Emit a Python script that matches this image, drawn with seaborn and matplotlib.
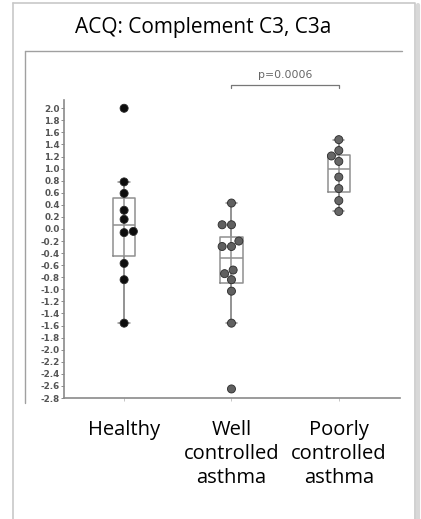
import numpy as np
import pandas as pd
import seaborn as sns
import matplotlib.pyplot as plt
from matplotlib.lines import Line2D

groups = ["Healthy", "Well controlled asthma", "Poorly controlled asthma"]
healthy = [2.0, 0.78, 0.59, 0.31, 0.16, -0.04, -0.06, -0.57, -0.84, -1.56]
well = [0.43, 0.07, 0.07, -0.2, -0.29, -0.29, -0.68, -0.74, -0.84, -1.03, -1.56, -2.65]
poorly = [1.48, 1.30, 1.21, 1.12, 0.86, 0.67, 0.47, 0.29]
labels = ["Healthy", "Well\ncontrolled\nasthma", "Poorly\ncontrolled\nasthma"]
title = "ACQ: Complement C3, C3a"
p_text = "p=0.0006"

df = pd.DataFrame({
    "group": [groups[0]] * len(healthy) + [groups[1]] * len(well) + [groups[2]] * len(poorly),
    "value": healthy + well + poorly,
})

sns.set_style("white")
plt.rcParams["font.family"] = ["Open Sans", "DejaVu Sans"]
plt.rcParams["axes.unicode_minus"] = False

W, H = 421, 519
fig = plt.figure(figsize=(W / 100, H / 100), dpi=100)
ax = fig.add_axes([64 / W, (H - 398) / H, (400 - 64) / W, (398 - 63) / H])

box_col = "#909090"
sns.boxplot(data=df, x="group", y="value", order=groups, width=0.21,
            showfliers=False, fill=False, color=box_col, linewidth=1.1,
            whis=1.5, ax=ax)

# whisker line runs straight through the box
for i, vals in enumerate([healthy, well, poorly]):
    v = np.array(vals)
    q1, q3 = np.percentile(v, [25, 75])
    iqr = q3 - q1
    lo = v[v >= q1 - 1.5 * iqr].min()
    hi = v[v <= q3 + 1.5 * iqr].max()
    ax.vlines(i, lo, hi, color=box_col, lw=1.1, zorder=1)

pal = {groups[0]: "#0d0d0d", groups[1]: "#606060", groups[2]: "#666666"}
sns.swarmplot(data=df, x="group", y="value", order=groups, hue="group",
              palette=pal, size=5.8, edgecolor="#2a2a2a", linewidth=0.6,
              legend=False, ax=ax, zorder=3)

ax.set_xlim(-0.56, 2.57)
ax.set_ylim(-2.8, 2.75)
ticks = np.round(np.arange(-2.8, 2.01, 0.2), 1)
ax.set_yticks(ticks)
ax.set_yticklabels([f"{t:.1f}" for t in ticks], fontsize=6.3,
                   fontweight="bold", color="#555555", family="DejaVu Sans")
ax.set_xticks([0, 1, 2])
ax.set_xticklabels([])
ax.tick_params(axis="y", left=True, length=2, width=0.6, pad=1, color="#777777")
ax.tick_params(axis="x", bottom=True, length=2, width=0.6, color="#bbbbbb")
ax.set_xlabel("")
ax.set_ylabel("")
for s in ["top", "right"]:
    ax.spines[s].set_visible(False)
for s in ["left", "bottom"]:
    ax.spines[s].set_color("#8a8a8a")
    ax.spines[s].set_linewidth(1.2)
ax.spines["left"].set_bounds(-2.8, 2.13)

# significance bracket
ax.plot([1, 1, 2, 2], [2.33, 2.38, 2.38, 2.33], color="#777777", lw=0.9, clip_on=False)
ax.text(1.5, 2.55, p_text, ha="center", va="center", fontsize=7.8,
        color="#666666", family="DejaVu Sans")

# group labels
for i, lab in enumerate(labels):
    ax.text(i, -3.17, lab, ha="center", va="top", fontsize=14.5,
            color="black", linespacing=1.26)

fig.text(203 / W, 1 - 27 / H, title, ha="center", va="center",
         fontsize=15, color="black")

# frames
def fline(xs, ys, **kw):
    fig.add_artist(Line2D([x / W for x in xs], [1 - y / H for y in ys], **kw))

fline([13, 415, 415], [3, 3, H], color="#c8c8c8", lw=1.2)
fline([13, 13], [3, H], color="#c8c8c8", lw=1.2)
fline([417.5, 417.5], [5, H], color="#d8d8d8", lw=3)
fline([25, 402], [51, 51], color="#a0a0a0", lw=1.0)
fline([25, 25], [51, 403], color="#a0a0a0", lw=1.0)

fig.savefig("out.png", dpi=100)
